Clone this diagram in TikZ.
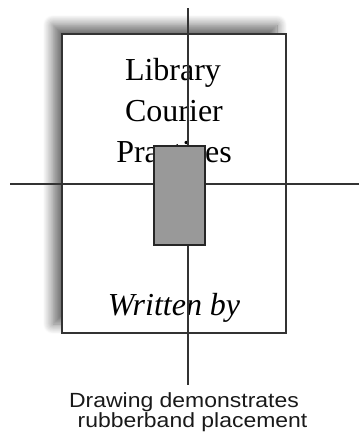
\documentclass[tikz,border=0pt]{standalone}
\usepackage{fontspec}
\setmainfont{Liberation Serif}
\newfontfamily\capfont{Liberation Sans}
\usetikzlibrary{positioning,shadows.blur}

\begin{document}
\begin{tikzpicture}[x=1pt, y=-1pt,
    guide/.style={draw=black!80, line width=1.8pt},
    page/.style={draw=black!80, fill=white, line width=1.8pt, inner sep=0pt,
      blur shadow={shadow xshift=-9pt, shadow yshift=9pt,
        shadow blur radius=10pt, shadow blur steps=12, shadow opacity=60}},
    band/.style={draw=black!85, fill=black!40, line width=1.2pt, inner sep=0pt},
    title/.style={font=\fontsize{32}{41}\selectfont, anchor=base, inner sep=0pt},
    caption/.style={font=\capfont\fontsize{20.5}{20}\selectfont, text=black!90,
      anchor=base, inner sep=0pt, xscale=1.12}]
  \useasboundingbox (0,0) rectangle (359,434);

  %----- 頁面 (with shadow) -----
  \node[page, minimum width=224pt, minimum height=299pt] (sheet) at (174,183.5) {};

  %----- 文字 -----
  \node[title] (library)   at (173,80)  {Library};
  \node[title] (courier)   at (174,121) {Courier};
  \node[title] (practices) at (174,162) {Practices};
  \node[title, font=\fontsize{32}{41}\selectfont\itshape] (written) at (174,315) {Written by};

  %----- 說明 -----
  \node[caption] (capA) at (184,407)   {Drawing demonstrates};
  \node[caption] (capB) at (192.5,427) {rubberband placement};

  %----- 十字線 -----
  \coordinate (vtop)   at (188,8);
  \coordinate (vbot)   at (188,385);
  \coordinate (hleft)  at (10,184);
  \coordinate (hright) at (359,184);
  \draw[guide] (vtop) -- (vbot);
  \draw[guide] (hleft) -- (hright);

  %----- rubberband 方塊 -----
  \node[band, minimum width=51pt, minimum height=99pt] (rubber) at (179.5,195.5) {};
\end{tikzpicture}
\end{document}
